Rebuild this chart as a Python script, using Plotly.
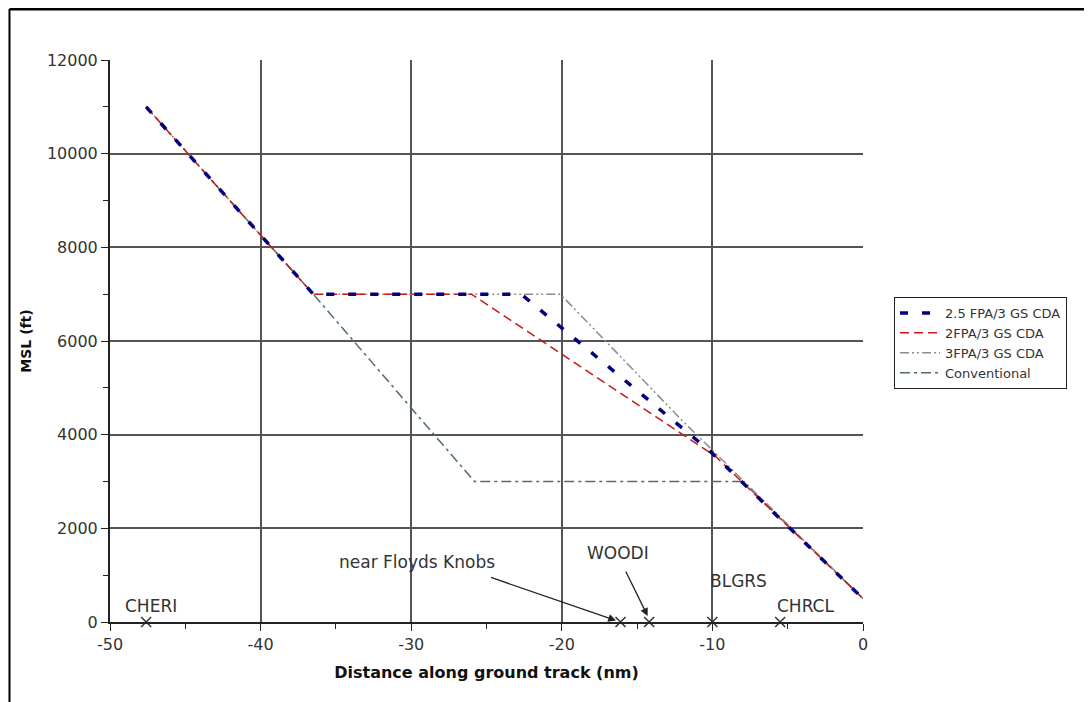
import plotly.graph_objects as go

# ---- data ----
fpa25_x = [-47.6, -36.5, -22.7, -10.2, 0.0]
fpa25_y = [11000, 7000, 7000, 3660, 500]

fpa2_x = [-47.6, -36.5, -26.0, -9.8, 0.0]
fpa2_y = [11000, 7000, 7000, 3540, 500]

fpa3_x = [-47.6, -36.5, -20.1, -12.0, 0.0]
fpa3_y = [11000, 7000, 7000, 4300, 500]

conv_x = [-47.6, -36.5, -25.8, -8.0, 0.0]
conv_y = [11000, 7000, 3000, 3000, 500]

wp_names = ["CHERI", "near Floyds Knobs", "WOODI", "BLGRS", "CHRCL"]
wp_x = [-47.6, -16.1, -14.2, -10.0, -5.5]
wp_y = [0, 0, 0, 0, 0]

# label positions (data coords) for waypoint names
lab_x = [-47.3, -29.6, -16.3, -8.3, -3.85]
lab_y = [342, 1282, 1474, 876, 342]

series_names = ["2.5 FPA/3 GS CDA", "2FPA/3 GS CDA", "3FPA/3 GS CDA", "Conventional"]

x_tickvals = [-50, -40, -30, -20, -10, 0]
x_ticktext = ["-50", "-40", "-30", "-20", "-10", "0"]
y_tickvals = [0, 2000, 4000, 6000, 8000, 10000, 12000]
y_ticktext = ["0", "2000", "4000", "6000", "8000", "10000", "12000"]

FONT = "DejaVu Sans"

fig = go.Figure()

# draw order: conventional, 3FPA, 2FPA, 2.5FPA (legend order via legendrank)
fig.add_trace(go.Scatter(x=conv_x, y=conv_y, mode="lines", name=series_names[3],
                         line=dict(color="#4f6f60", width=1.5, dash="10px,4px,3px,4px"),
                         legendrank=4))
fig.add_trace(go.Scatter(x=fpa3_x, y=fpa3_y, mode="lines", name=series_names[2],
                         line=dict(color="#8c8c8c", width=1.5, dash="9px,3px,2px,3px,2px,3px"),
                         legendrank=3))
fig.add_trace(go.Scatter(x=fpa2_x, y=fpa2_y, mode="lines", name=series_names[1],
                         line=dict(color="#c81818", width=1.5, dash="9px,5px"),
                         legendrank=2))
fig.add_trace(go.Scatter(x=fpa25_x, y=fpa25_y, mode="lines", name=series_names[0],
                         line=dict(color="#000080", width=3.5, dash="8px,14px"),
                         legendrank=1))

# waypoint markers
fig.add_trace(go.Scatter(x=wp_x, y=wp_y, mode="markers", showlegend=False,
                         marker=dict(symbol="x-thin", size=10,
                                     line=dict(color="#333333", width=1.5)),
                         cliponaxis=False, hoverinfo="skip"))

annotations = []
for name, lx, ly in zip(wp_names, lab_x, lab_y):
    annotations.append(dict(x=lx, y=ly, xref="x", yref="y", text=name, showarrow=False,
                            font=dict(family=FONT, size=17, color="#333333")))

# arrows
annotations.append(dict(x=-16.4, y=30, ax=-24.8, ay=962, xref="x", yref="y",
                        axref="x", ayref="y", text="", showarrow=True,
                        arrowhead=2, arrowsize=1.2, arrowwidth=1.3, arrowcolor="#222222"))
annotations.append(dict(x=-14.3, y=130, ax=-15.8, ay=1111, xref="x", yref="y",
                        axref="x", ayref="y", text="", showarrow=True,
                        arrowhead=2, arrowsize=1.2, arrowwidth=1.3, arrowcolor="#222222"))

shapes = [
    # outer frame (top and left edges visible)
    dict(type="line", xref="paper", yref="paper", x0=-0.1335, x1=1.33, y0=1.0907, y1=1.0907,
         line=dict(color="black", width=3)),
    dict(type="line", xref="paper", yref="paper", x0=-0.1335, x1=-0.1335, y0=1.0907, y1=-0.17,
         line=dict(color="black", width=2)),
]

fig.update_layout(
    width=1092, height=702,
    margin=dict(l=102, r=237, t=52, b=88),
    paper_bgcolor="white", plot_bgcolor="white",
    font=dict(family=FONT, size=16, color="#333333"),
    showlegend=True,
    legend=dict(x=1.0412, y=0.5783, xanchor="left", yanchor="top",
                bordercolor="#222222", borderwidth=1, bgcolor="white",
                font=dict(family=FONT, size=13, color="#333333"),
                tracegroupgap=0, itemwidth=40),
    annotations=annotations,
    shapes=shapes,
    xaxis=dict(range=[-50, 0], tickvals=x_tickvals, ticktext=x_ticktext, showgrid=True,
               gridcolor="#555555", gridwidth=2, zeroline=False,
               showline=True, linecolor="#222222", linewidth=2,
               ticks="outside", ticklen=7, tickcolor="#222222",
               minor=dict(dtick=5, tick0=-50, ticks="outside", ticklen=5, tickcolor="#222222", showgrid=False),
               tickfont=dict(family=FONT, size=16, color="#333333"),
               title=dict(text="<b>Distance along ground track (nm)</b>",
                          font=dict(family=FONT, size=16, color="#111111"), standoff=14)),
    yaxis=dict(range=[0, 12000], tickvals=y_tickvals, ticktext=y_ticktext, showgrid=True,
               gridcolor="#555555", gridwidth=2, zeroline=False,
               showline=True, linecolor="#222222", linewidth=2,
               ticks="outside", ticklen=7, tickcolor="#222222",
               minor=dict(dtick=1000, tick0=0, ticks="outside", ticklen=5, tickcolor="#222222", showgrid=False),
               tickfont=dict(family=FONT, size=16, color="#333333"),
               title=dict(text="<b>MSL (ft)</b>",
                          font=dict(family=FONT, size=14, color="#111111"), standoff=12)),
)

fig.write_html("out.html")
